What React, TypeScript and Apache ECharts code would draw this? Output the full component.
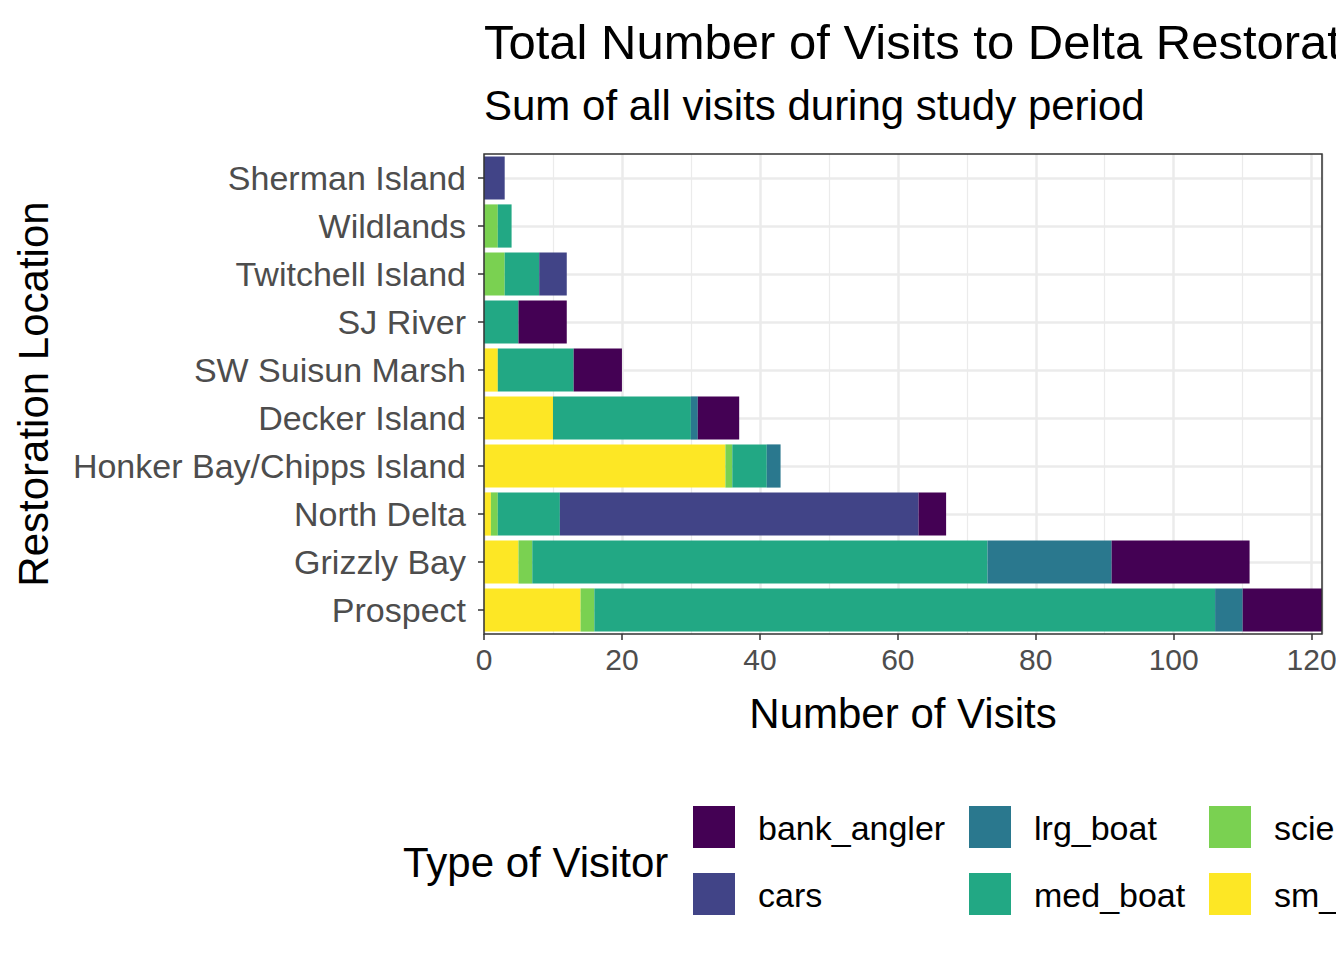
import { useEffect, useRef } from 'react';
import * as echarts from 'echarts';

const locations = [
  'Sherman Island', 'Wildlands', 'Twitchell Island', 'SJ River', 'SW Suisun Marsh',
  'Decker Island', 'Honker Bay/Chipps Island', 'North Delta', 'Grizzly Bay', 'Prospect',
].reverse();

const visitorTypes = ['bank_angler', 'cars', 'lrg_boat', 'med_boat', 'scientist', 'sm_boat'];
const colors = ['#440154', '#414487', '#2A788E', '#22A884', '#7AD151', '#FDE725'];

// values in order of locations above (Prospect first -> Sherman Island last)
const smBoat = [14, 5, 1, 35, 10, 2, 0, 0, 0, 0];
const scientist = [2, 2, 1, 1, 0, 0, 0, 3, 2, 0];
const medBoat = [90, 66, 9, 5, 20, 11, 5, 5, 2, 0];
const lrgBoat = [4, 18, 0, 2, 1, 0, 0, 0, 0, 0];
const cars = [0, 0, 52, 0, 0, 0, 0, 4, 0, 3];
const bankAngler = [12, 20, 4, 0, 6, 7, 7, 0, 0, 0];

const stackOrder: [string, number[]][] = [
  ['sm_boat', smBoat],
  ['scientist', scientist],
  ['med_boat', medBoat],
  ['lrg_boat', lrgBoat],
  ['cars', cars],
  ['bank_angler', bankAngler],
];

const FONT = 'Liberation Sans';
const GRID = '#EBEBEB';

export default function App() {
  const ref = useRef<HTMLDivElement>(null);

  useEffect(() => {
    if (!ref.current) return;
    const chart = echarts.init(ref.current, undefined, { renderer: 'svg' });

    const legendCols = [693, 969, 1209];
    const legendRows = [806, 873];
    const legendItems: any[] = [];
    visitorTypes.forEach((name, i) => {
      const col = Math.floor(i / 2);
      const row = i % 2;
      legendItems.push({
        type: 'rect',
        shape: { x: legendCols[col], y: legendRows[row], width: 42, height: 42 },
        style: { fill: colors[i] },
      });
      legendItems.push({
        type: 'text',
        x: legendCols[col] + 65,
        y: legendRows[row] + 22,
        style: { text: name, fill: '#000', font: `34px "${FONT}"`, verticalAlign: 'middle' },
      });
    });

    chart.setOption({
      animation: false,
      textStyle: { fontFamily: FONT },
      title: {
        text: 'Total Number of Visits to Delta Restoration Sites',
        subtext: 'Sum of all visits during study period',
        left: 479,
        top: 12,
        itemGap: 18,
        textStyle: { fontSize: 49, fontWeight: 'normal', color: '#000', fontFamily: FONT },
        subtextStyle: { fontSize: 42, color: '#000', fontFamily: FONT },
      },
      grid: { left: 484, right: 22, top: 154, bottom: 326 },
      xAxis: {
        type: 'value',
        min: 0,
        max: 121.5,
        interval: 20,
        name: 'Number of Visits',
        nameLocation: 'middle',
        nameGap: 58,
        nameTextStyle: { fontSize: 42, color: '#000' },
        axisLabel: { fontSize: 30, color: '#4D4D4D', margin: 10, showMaxLabel: false },
        axisLine: { show: false },
        axisTick: { show: true, length: 6, lineStyle: { color: '#333', width: 1.5 } },
        splitLine: { show: true, lineStyle: { color: GRID, width: 2.5 } },
        minorTick: { show: false, splitNumber: 2 },
        minorSplitLine: { show: true, lineStyle: { color: GRID, width: 1.2 } },
      },
      yAxis: [
        {
          type: 'category',
          data: locations,
          name: 'Restoration Location',
          nameLocation: 'middle',
          nameGap: 430,
          nameRotate: 90,
          nameTextStyle: { fontSize: 42, color: '#000' },
          axisLabel: { fontSize: 34, color: '#4D4D4D', margin: 18 },
          axisLine: { show: false },
          axisTick: { show: true, alignWithLabel: true, length: 6, lineStyle: { color: '#333', width: 1.5 } },
          splitLine: { show: false },
        },
        {
          type: 'value',
          min: 0,
          max: 20,
          interval: 1,
          position: 'left',
          axisLabel: { show: false },
          axisLine: { show: false },
          axisTick: { show: false },
          splitLine: { show: true, lineStyle: { color: ['transparent', GRID], width: 2.5 } },
        },
      ],
      series: stackOrder.map(([name, data]) => ({
        name,
        type: 'bar',
        stack: 'total',
        yAxisIndex: 0,
        barCategoryGap: '10%',
        itemStyle: { color: colors[visitorTypes.indexOf(name)] },
        data,
      })),
      graphic: [
        {
          type: 'rect',
          shape: { x: 484, y: 154, width: 838, height: 480 },
          style: { fill: 'none', stroke: '#333', lineWidth: 1.5 },
          z: 100,
        },
        {
          type: 'text',
          x: 403,
          y: 862,
          style: { text: 'Type of Visitor', fill: '#000', font: `42px "${FONT}"`, verticalAlign: 'middle' },
        },
        ...legendItems,
      ],
    });

    return () => chart.dispose();
  }, []);

  return <div ref={ref} style={{ width: 1344, height: 960, margin: -8 }} />;
}
